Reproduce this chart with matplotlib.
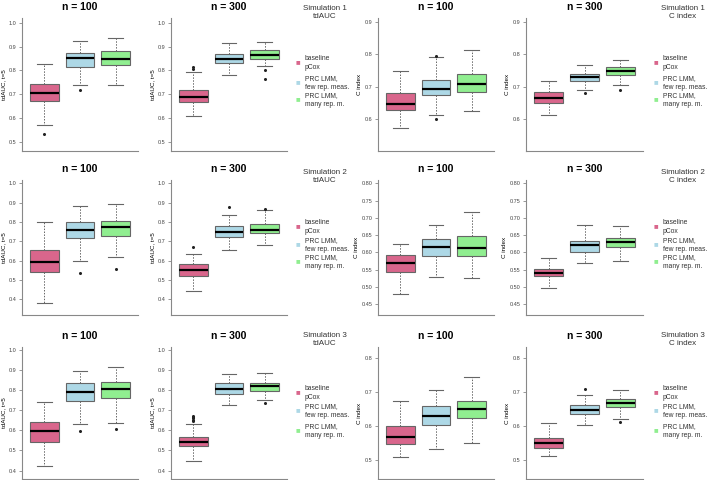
import matplotlib
matplotlib.use("Agg")
import matplotlib.pyplot as plt

plt.rcParams['font.family'] = ['Liberation Sans', 'DejaVu Sans']

# box stats per panel: [whislo, q1, median, q3, whishi] for pCox, few, many
s1_auc_100 = [[0.570, 0.671, 0.707, 0.745, 0.826], [0.738, 0.815, 0.853, 0.874, 0.922], [0.741, 0.821, 0.849, 0.880, 0.938]]
s1_auc_100_out = [[0.535], [0.717], []]
s1_auc_300 = [[0.609, 0.667, 0.690, 0.720, 0.793], [0.782, 0.832, 0.847, 0.871, 0.915], [0.817, 0.849, 0.864, 0.884, 0.919]]
s1_auc_300_out = [[0.815, 0.807], [], [0.801, 0.762]]
s1_c_100 = [[0.574, 0.629, 0.649, 0.681, 0.749], [0.613, 0.674, 0.693, 0.722, 0.792], [0.625, 0.684, 0.709, 0.741, 0.815]]
s1_c_100_out = [[], [0.794, 0.600], []]
s1_c_300 = [[0.614, 0.650, 0.665, 0.683, 0.718], [0.692, 0.718, 0.730, 0.741, 0.769], [0.707, 0.736, 0.749, 0.762, 0.784]]
s1_c_300_out = [[], [0.682], [0.692]]

s2_auc_100 = [[0.381, 0.541, 0.595, 0.652, 0.800], [0.597, 0.716, 0.760, 0.797, 0.883], [0.617, 0.728, 0.776, 0.807, 0.891]]
s2_auc_100_out = [[], [0.534], [0.555]]
s2_auc_300 = [[0.440, 0.519, 0.552, 0.581, 0.636], [0.653, 0.722, 0.748, 0.781, 0.838], [0.678, 0.743, 0.759, 0.791, 0.862]]
s2_auc_300_out = [[0.672], [0.878], [0.866]]
s2_c_100 = [[0.480, 0.542, 0.568, 0.592, 0.624], [0.527, 0.590, 0.615, 0.639, 0.679], [0.525, 0.589, 0.614, 0.648, 0.718]]
s2_c_100_out = [[], [], []]
s2_c_300 = [[0.495, 0.530, 0.540, 0.553, 0.583], [0.569, 0.600, 0.620, 0.634, 0.679], [0.576, 0.616, 0.630, 0.643, 0.676]]
s2_c_300_out = [[], [], []]

s3_auc_100 = [[0.421, 0.544, 0.595, 0.640, 0.743], [0.632, 0.746, 0.789, 0.834, 0.894], [0.638, 0.763, 0.806, 0.842, 0.914]]
s3_auc_100_out = [[], [0.595], [0.609]]
s3_auc_300 = [[0.449, 0.521, 0.541, 0.565, 0.633], [0.726, 0.781, 0.806, 0.837, 0.879], [0.753, 0.798, 0.823, 0.837, 0.886]]
s3_auc_300_out = [[0.672, 0.665, 0.660, 0.653, 0.647], [], [0.738]]
s3_c_100 = [[0.508, 0.546, 0.567, 0.601, 0.674], [0.531, 0.603, 0.629, 0.658, 0.707], [0.550, 0.624, 0.651, 0.674, 0.746]]
s3_c_100_out = [[], [], []]
s3_c_300 = [[0.513, 0.535, 0.549, 0.564, 0.609], [0.603, 0.636, 0.648, 0.662, 0.693], [0.620, 0.655, 0.669, 0.680, 0.706]]
s3_c_300_out = [[], [0.708], [0.611]]

methods = ["baseline\npCox", "PRC LMM,\nfew rep. meas.", "PRC LMM,\nmany rep. m."]
colors = ["#D9668C", "#ADD8E6", "#90EE90"]
sim_names = ["Simulation 1", "Simulation 2", "Simulation 3"]

panels = [
    [(s1_auc_100, s1_auc_100_out), (s1_auc_300, s1_auc_300_out), (s1_c_100, s1_c_100_out), (s1_c_300, s1_c_300_out)],
    [(s2_auc_100, s2_auc_100_out), (s2_auc_300, s2_auc_300_out), (s2_c_100, s2_c_100_out), (s2_c_300, s2_c_300_out)],
    [(s3_auc_100, s3_auc_100_out), (s3_auc_300, s3_auc_300_out), (s3_c_100, s3_c_100_out), (s3_c_300, s3_c_300_out)],
]

W, H = 709, 480
cols_px = [(22, 138), (171, 287), (378, 494), (526, 643)]
rows_px = [(18, 151), (180, 315), (347, 479)]
auc_lims = [(0.462, 1.02), (0.318, 1.017), (0.358, 1.015)]
c_lims = [(0.503, 0.912), (0.418, 0.810), (0.444, 0.833)]
auc_ticks = [[0.5, 0.6, 0.7, 0.8, 0.9, 1.0], [0.4, 0.5, 0.6, 0.7, 0.8, 0.9, 1.0], [0.4, 0.5, 0.6, 0.7, 0.8, 0.9, 1.0]]
c_ticks = [[0.6, 0.7, 0.8, 0.9], [0.45, 0.50, 0.55, 0.60, 0.65, 0.70, 0.75, 0.80], [0.5, 0.6, 0.7, 0.8]]
legend_y = [(63, 83, 100), (227, 245, 262), (393, 411, 431)]
simtitle_y = [5, 169, 332]

fig = plt.figure(figsize=(W / 100, H / 100), dpi=100)
fig.patch.set_facecolor("white")

grey = "#666666"
for r in range(3):
    ytop, ybot = rows_px[r]
    for c in range(4):
        x0, x1 = cols_px[c]
        ax = fig.add_axes([x0 / W, 1 - ybot / H, (x1 - x0) / W, (ybot - ytop) / H])
        stats_in, outs = panels[r][c]
        stats = []
        for s, o in zip(stats_in, outs):
            stats.append(dict(whislo=s[0], q1=s[1], med=s[2], q3=s[3], whishi=s[4], fliers=o))
        bp = ax.bxp(stats, positions=[1, 2, 3], widths=0.8, patch_artist=True,
                    boxprops=dict(edgecolor=grey, linewidth=0.8),
                    medianprops=dict(color="black", linewidth=1.6),
                    whiskerprops=dict(color=grey, linewidth=0.7, linestyle=(0, (1.5, 1.5))),
                    capprops=dict(color=grey, linewidth=0.8),
                    flierprops=dict(marker="o", markersize=1.2, markerfacecolor="#222222",
                                    markeredgecolor="#222222"),
                    capwidths=0.4)
        for patch, col in zip(bp["boxes"], colors):
            patch.set_facecolor(col)
        ax.set_xlim(0.37, 3.63)
        if c < 2:
            ax.set_ylim(*auc_lims[r])
            ax.set_yticks(auc_ticks[r])
            ax.set_yticklabels(["%.1f" % t for t in auc_ticks[r]])
            ax.set_ylabel("tdAUC, t=5", fontsize=4.5, labelpad=2)
        else:
            ax.set_ylim(*c_lims[r])
            ax.set_yticks(c_ticks[r])
            if r == 1:
                ax.set_yticklabels(["%.2f" % t for t in c_ticks[r]])
            else:
                ax.set_yticklabels(["%.1f" % t for t in c_ticks[r]])
            ax.set_ylabel("C index", fontsize=4.5, labelpad=2)
        ax.set_xticks([])
        ax.spines["top"].set_visible(False)
        ax.spines["right"].set_visible(False)
        for sp in ("left", "bottom"):
            ax.spines[sp].set_color("#888888")
            ax.spines[sp].set_linewidth(0.8)
        ax.tick_params(axis="y", labelsize=4, length=2, width=0.6, color="#888888",
                       labelcolor="#444444", pad=2)
        ax.set_title("n = 100" if c in (0, 2) else "n = 300", fontsize=7.5,
                     fontweight="bold", pad=6)

    # simulation headers and legends
    for c, metric, lx in ((1, "tdAUC", 325), (3, "C index", 683)):
        fig.text(lx / W, 1 - simtitle_y[r] / H, sim_names[r] + "\n" + metric,
                 ha="center", va="top", fontsize=5.8, color="#333333", linespacing=1.25)
        mx = 298 if c == 1 else 656
        for k in range(3):
            my = legend_y[r][k]
            fig.text(mx / W, 1 - my / H, "\u25A0", ha="center", va="center",
                     fontsize=5.5, color=colors[k])
            fig.text((mx + 7) / W, 1 - my / H, methods[k], ha="left", va="center",
                     fontsize=4.9, color="#333333", linespacing=1.25)

fig.savefig("out.png", dpi=100, facecolor="white")
